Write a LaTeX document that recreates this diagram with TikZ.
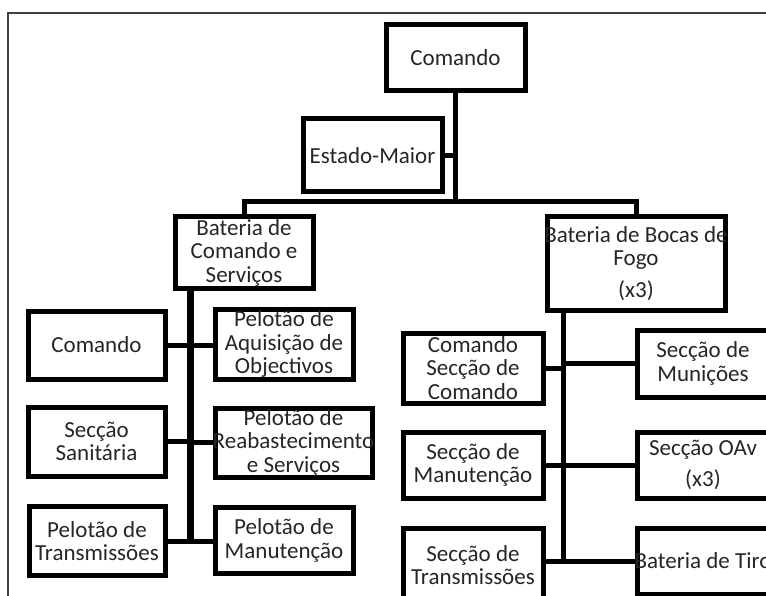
\documentclass[tikz,border=0pt]{standalone}
\usepackage{fontspec}
\setmainfont{Carlito}
\begin{document}
\begin{tikzpicture}[x=1pt,y=-1pt,
  box/.style={draw=black, line width=5pt, fill=white, inner sep=0pt},
  lbl/.style={font=\fontsize{23}{23.5}\selectfont, text=black!85, align=center, inner sep=0pt},
  conn/.style={draw=black, line width=5pt},
  spine/.style={draw=black, line width=7pt}]
\useasboundingbox (0,0) rectangle (766,596);
\clip (0,0) rectangle (766,596);

% outer frame
\draw[line width=1.5pt, black!75] (8,600) -- (8,13) -- (770,13);

% top levels
\node[box, minimum width=139pt, minimum height=66pt,
      label={[lbl]center:Comando}] (top) at (455.5,58) {};
\node[box, minimum width=139pt, minimum height=73pt,
      label={[lbl]center:Estado-Maior}] (em) at (372.5,155.5) {};

% second level
\node[box, minimum width=138pt, minimum height=71pt,
      label={[lbl]center:Bateria de\\Comando e\\Serviços}] (bcs) at (244,252.5) {};
\node[box, minimum width=178pt, minimum height=93pt,
      label={[lbl]center:Bateria de Bocas de\\Fogo\\[8pt](x3)}] (bbf) at (636,263.5) {};

% battery of command and services
\node[box, minimum width=137pt, minimum height=68pt,
      label={[lbl]center:Comando}] (cmd) at (96.5,345) {};
\node[box, minimum width=138pt, minimum height=70pt,
      label={[lbl]center:Pelotão de\\Aquisição de\\Objectivos}] (paq) at (284,344) {};
\node[box, minimum width=137pt, minimum height=69pt,
      label={[lbl]center:Secção\\Sanitária}] (ssa) at (96.5,441.5) {};
\node[box, minimum width=157pt, minimum height=69pt,
      label={[lbl]center:Pelotão de\\Reabastecimento\\e Serviços}] (prs) at (293.5,442.5) {};
\node[box, minimum width=136pt, minimum height=69pt,
      label={[lbl]center:Pelotão de\\Transmissões}] (ptx) at (97,541) {};
\node[box, minimum width=138pt, minimum height=66pt,
      label={[lbl]center:Pelotão de\\Manutenção}] (pmn) at (284,540.5) {};

% firing battery
\node[box, minimum width=140pt, minimum height=70pt,
      label={[lbl]center:Comando\\Secção de\\Comando}] (csc) at (473,368) {};
\node[box, minimum width=132pt, minimum height=67pt,
      label={[lbl]center:Secção de\\Munições}] (mun) at (703,363.5) {};
\node[box, minimum width=140pt, minimum height=66pt,
      label={[lbl]center:Secção de\\Manutenção}] (smn) at (473,465) {};
\node[box, minimum width=132pt, minimum height=66pt,
      label={[lbl]center:Secção OAv\\[8pt](x3)}] (oav) at (703,465) {};
\node[box, minimum width=140pt, minimum height=74pt,
      label={[lbl]center:Secção de\\Transmissões}] (stx) at (473,565) {};
\node[box, minimum width=132pt, minimum height=66pt,
      label={[lbl]center:Bateria de Tiro}] (bt) at (703,561) {};

% junction points of the trunk lines
\coordinate (bar) at (455.5,202);
\coordinate (lend) at (190,541);
\coordinate (rend) at (563,561);

% command chain
\draw[conn] (top) -- (bar);
\draw[conn] (em.east) -- (em.east -| bar);
\draw[conn] (bcs.north) |- (bar) -| (bbf.north);

% left trunk and branches
\draw[spine] (bcs.south -| lend) -- ([yshift=2.5pt]lend);
\draw[conn] (cmd.east) -- (paq.west |- cmd.east);
\draw[conn] (ssa.east) -- (ssa.east -| lend);
\draw[conn] (prs.west) -- (prs.west -| lend);
\draw[conn] (ptx.east) -- (pmn.west |- ptx.east);

% right trunk and branches
\draw[conn] (bbf.south -| rend) -- ([yshift=2.5pt]rend);
\draw[conn] (csc.east) -- (csc.east -| rend);
\draw[conn] (mun.west) -- (mun.west -| rend);
\draw[conn] (smn.east) -- (oav.west |- smn.east);
\draw[conn] (stx.east |- bt.west) -- (bt.west);
\end{tikzpicture}
\end{document}
